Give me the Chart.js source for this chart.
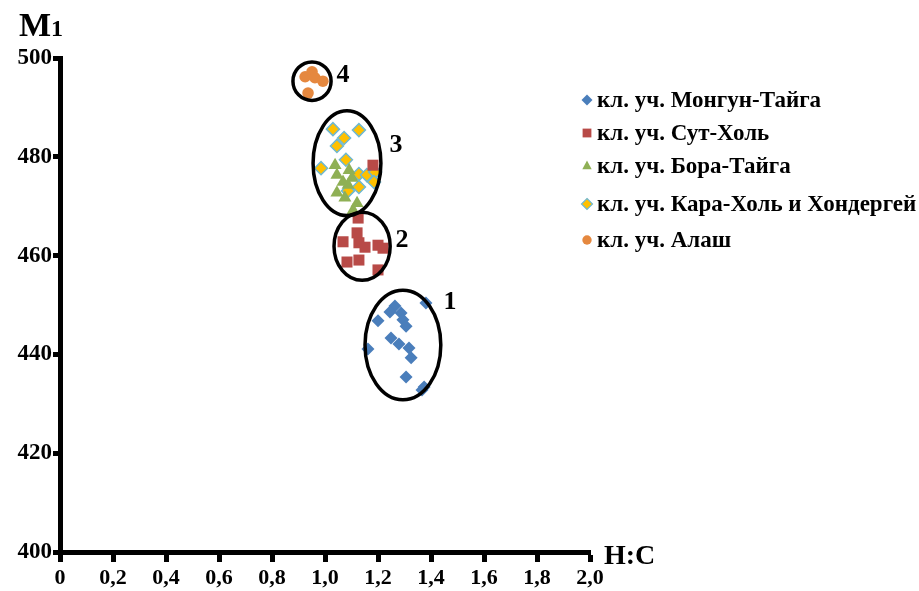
<!DOCTYPE html>
<html>
<head>
<meta charset="utf-8">
<style>
  html, body { margin: 0; padding: 0; background: #fff; }
  canvas { display: block; }
</style>
<script src="https://cdn.jsdelivr.net/npm/chart.js@4.4.0/dist/chart.umd.min.js"></script>
</head>
<body>
<canvas id="c" width="919" height="591"></canvas>
<script>
// H:C ratio (x) and M1 (y) for each sampling site
const mongunHC = [1.381, 1.264, 1.245, 1.287, 1.294, 1.306, 1.200, 1.249, 1.279, 1.317, 1.325, 1.162, 1.306, 1.374, 1.366];
const mongunM1 = [450.4, 449.8, 448.6, 448.4, 447.0, 445.7, 446.8, 443.3, 442.1, 441.3, 439.3, 441.1, 435.4, 433.4, 432.8];

const sutHC = [1.125, 1.121, 1.068, 1.128, 1.151, 1.200, 1.219, 1.083, 1.128, 1.200, 1.181];
const sutM1 = [467.6, 464.6, 462.8, 462.6, 461.7, 462.1, 461.5, 458.7, 459.1, 457.1, 478.3];

const boraHC = [1.038, 1.045, 1.091, 1.102, 1.068, 1.087, 1.045, 1.075, 1.121, 1.106];
const boraM1 = [478.3, 476.3, 477.3, 475.7, 474.9, 474.3, 472.7, 471.7, 470.6, 469.2];

const karaHC = [1.030, 1.128, 1.072, 1.045, 1.079, 0.985, 1.128, 1.158, 1.189, 1.185, 1.128, 1.087];
const karaM1 = [485.6, 485.4, 483.8, 482.2, 479.4, 477.7, 476.5, 476.3, 476.9, 474.9, 473.9, 473.1];

const alashHC = [0.925, 0.951, 0.962, 0.992, 0.936];
const alashM1 = [496.2, 497.2, 496.0, 495.3, 492.9];

const seriesLabels = [
  'кл. уч. Монгун-Тайга',
  'кл. уч. Сут-Холь',
  'кл. уч. Бора-Тайга',
  'кл. уч. Кара-Холь и Хондергей',
  'кл. уч. Алаш'
];

const xTicks = [0, 0.2, 0.4, 0.6, 0.8, 1.0, 1.2, 1.4, 1.6, 1.8, 2.0];
const xTickLabels = ['0', '0,2', '0,4', '0,6', '0,8', '1,0', '1,2', '1,4', '1,6', '1,8', '2,0'];
const yTicks = [400, 420, 440, 460, 480, 500];
const yTickLabels = ['400', '420', '440', '460', '480', '500'];

// Cluster outlines: centre and half-axes in data units, plus the group number
const clusterNames = ['1', '2', '3', '4'];
const clusterCx = [1.294, 1.140, 1.083, 0.951];
const clusterCy = [441.9, 461.9, 478.7, 495.3];
const clusterRx = [0.143, 0.106, 0.128, 0.072];
const clusterRy = [11.1, 6.9, 10.6, 3.9];
const clusterLabelX = [1.472, 1.291, 1.268, 1.068];
const clusterLabelY = [450.6, 463.0, 482.4, 496.6];

const pts = (xs, ys) => xs.map((x, i) => ({ x: x, y: ys[i] }));

const SERIF = '"Liberation Serif", "Times New Roman", serif';

const styles = [
  { fill: '#4a7ebb', stroke: '#4a7ebb', shape: 'rectRot', r: 6.5, bw: 0 },
  { fill: '#b84a47', stroke: '#b84a47', shape: 'rect', r: 7.8, bw: 0 },
  { fill: '#8fb055', stroke: '#8fb055', shape: 'triangle', r: 7.5, bw: 0 },
  { fill: '#ffc000', stroke: '#6fb8d0', shape: 'rectRot', r: 6.5, bw: 1.5 },
  { fill: '#e5883f', stroke: '#e5883f', shape: 'circle', r: 5.8, bw: 0 }
];
const seriesData = [
  pts(mongunHC, mongunM1),
  pts(sutHC, sutM1),
  pts(boraHC, boraM1),
  pts(karaHC, karaM1),
  pts(alashHC, alashM1)
];

const datasets = seriesData.map((d, i) => ({
  label: seriesLabels[i],
  data: d,
  pointStyle: styles[i].shape,
  pointRadius: styles[i].r,
  pointBackgroundColor: styles[i].fill,
  pointBorderColor: styles[i].stroke,
  pointBorderWidth: styles[i].bw,
  showLine: false
}));

const whiteBg = {
  id: 'whiteBg',
  beforeDraw(chart) {
    const c = chart.ctx;
    c.save();
    c.fillStyle = '#fff';
    c.fillRect(0, 0, chart.width, chart.height);
    c.restore();
  }
};

const clusters = {
  id: 'clusters',
  afterDatasetsDraw(chart) {
    const c = chart.ctx;
    const sx = chart.scales.x, sy = chart.scales.y;
    c.save();
    c.strokeStyle = '#000';
    c.lineWidth = 3.5;
    clusterNames.forEach((name, i) => {
      const cx = sx.getPixelForValue(clusterCx[i]);
      const cy = sy.getPixelForValue(clusterCy[i]);
      const rx = Math.abs(sx.getPixelForValue(clusterCx[i] + clusterRx[i]) - cx);
      const ry = Math.abs(sy.getPixelForValue(clusterCy[i] + clusterRy[i]) - cy);
      c.beginPath();
      c.ellipse(cx, cy, rx, ry, 0, 0, Math.PI * 2);
      c.stroke();
      c.fillStyle = '#000';
      c.font = 'bold 26px ' + SERIF;
      c.textAlign = 'center';
      c.textBaseline = 'middle';
      c.fillText(name, sx.getPixelForValue(clusterLabelX[i]), sy.getPixelForValue(clusterLabelY[i]));
    });
    c.restore();
  }
};

function drawMarker(c, shape, x, y, r) {
  c.beginPath();
  if (shape === 'rectRot') {
    c.moveTo(x, y - r); c.lineTo(x + r, y); c.lineTo(x, y + r); c.lineTo(x - r, y); c.closePath();
  } else if (shape === 'rect') {
    c.rect(x - r * 0.8, y - r * 0.8, r * 1.6, r * 1.6);
  } else if (shape === 'triangle') {
    c.moveTo(x, y - r); c.lineTo(x + r * 0.85, y + r * 0.6); c.lineTo(x - r * 0.85, y + r * 0.6); c.closePath();
  } else {
    c.arc(x, y, r * 0.85, 0, Math.PI * 2);
  }
}

const sideLegend = {
  id: 'sideLegend',
  afterDraw(chart) {
    const c = chart.ctx;
    const rows = [100, 133, 166, 204, 240];
    c.save();
    chart.data.datasets.forEach((ds, i) => {
      const st = styles[i];
      drawMarker(c, st.shape, 587, rows[i], 5.5);
      c.fillStyle = st.fill;
      c.fill();
      if (st.bw) { c.lineWidth = 1.2; c.strokeStyle = st.stroke; c.stroke(); }
      c.fillStyle = '#000';
      c.font = 'bold 23px ' + SERIF;
      c.textAlign = 'left';
      c.textBaseline = 'middle';
      c.fillText(ds.label, 597, rows[i] + 1);
    });
    c.restore();
  }
};

const axisTitles = {
  id: 'axisTitles',
  afterDraw(chart) {
    const c = chart.ctx;
    c.save();
    c.fillStyle = '#000';
    c.textBaseline = 'alphabetic';
    c.textAlign = 'left';
    c.font = 'bold 34px ' + SERIF;
    c.fillText('M', 19, 36);
    const w = c.measureText('M').width;
    c.font = 'bold 24px ' + SERIF;
    c.fillText('1', 19 + w, 36);
    c.font = 'bold 28px ' + SERIF;
    c.fillText('H:C', 604, 564);
    c.restore();
  }
};

new Chart(document.getElementById('c'), {
  type: 'scatter',
  data: { datasets: datasets },
  options: {
    responsive: false,
    animation: false,
    layout: { padding: { top: 58, right: 329, left: 0, bottom: 0 } },
    plugins: { legend: { display: false }, tooltip: { enabled: false } },
    scales: {
      x: {
        type: 'linear',
        min: 0, max: 2,
        afterBuildTicks: s => { s.ticks = xTicks.map(v => ({ value: v })); },
        afterFit: s => { s.height = 39; },
        ticks: {
          callback: (v, i) => xTickLabels[i],
          color: '#000',
          font: { family: SERIF, size: 22, weight: 'bold' },
          padding: 3,
          maxRotation: 0,
          autoSkip: false
        },
        grid: { drawOnChartArea: false, drawTicks: true, tickLength: 10, tickWidth: 5, tickColor: '#000' },
        border: { display: true, color: '#000', width: 5 }
      },
      y: {
        type: 'linear',
        min: 400, max: 500,
        afterBuildTicks: s => { s.ticks = yTicks.map(v => ({ value: v })); },
        afterFit: s => { s.width = 60; },
        ticks: {
          callback: (v, i) => yTickLabels[i],
          color: '#000',
          font: { family: SERIF, size: 23, weight: 'bold' },
          padding: 1,
          autoSkip: false
        },
        grid: { drawOnChartArea: false, drawTicks: true, tickLength: 7, tickWidth: 5, tickColor: '#000' },
        border: { display: true, color: '#000', width: 5 }
      }
    }
  },
  plugins: [whiteBg, clusters, sideLegend, axisTitles]
});
</script>
</body>
</html>
